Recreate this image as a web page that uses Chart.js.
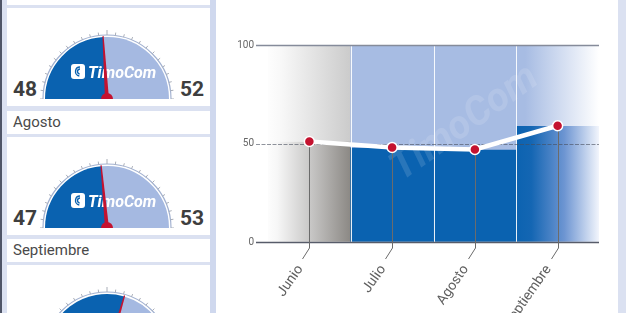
<!DOCTYPE html>
<html>
<head>
<meta charset="utf-8">
<script src="https://cdn.jsdelivr.net/npm/chart.js@4"></script>
<style>
  html, body { margin: 0; padding: 0; }
  body { width: 626px; height: 313px; overflow: hidden; position: relative; background: #dbe1f1; font-family: Roboto, "DejaVu Sans", sans-serif; }
  #edge { position: absolute; left: 0; top: 0; width: 2px; height: 313px; background: #4f5567; }
  #split { position: absolute; left: 210px; top: 0; width: 6px; height: 313px; background: #cfd8ee; }
  .box { position: absolute; left: 7px; width: 203px; background: #fff; }
  .title span { position: absolute; left: 6px; top: 4px; font-size: 15px; line-height: 15px; color: #4a4a4a; }
  .num { position: absolute; font-weight: 700; font-size: 21px; line-height: 21px; color: #3e3e3e; }
  .gauge { position: absolute; z-index: 2; }
  #panel { position: absolute; left: 216px; top: 0; width: 402px; height: 313px; background: #fff; }
</style>
</head>
<body>
<div id="edge"></div>
<div id="split"></div>
<div id="panel"><canvas id="trend" width="402" height="313"></canvas></div>

<script>
// ---------- data ----------
const months = ['Junio', 'Julio', 'Agosto', 'Septiembre'];
const values = [51, 48, 47, 59];
const yTicks = [0, 50, 100];

const gaugeMonths = ['Julio', 'Agosto', 'Septiembre'];
const gaugeLow = [48, 47, 59];
const gaugeHigh = [52, 53, 41];

// layout of the left cards (title box tops)
const cardTops = [-18, 111, 239];

const DARK = '#0a62b0';
const LIGHT = '#a7bce3';
const RED = '#c4122f';

// ---------- left column: gauges ----------
const gaugePlugin = {
  id: 'gaugeDeco',
  afterDatasetsDraw(chart) {
    const arc = chart.getDatasetMeta(0).data[0];
    const ctx = chart.ctx;
    const cx = arc.x, cy = arc.y, r = arc.outerRadius;
    ctx.save();
    // rim
    ctx.strokeStyle = '#a2b1d0';
    ctx.lineWidth = 1.2;
    ctx.beginPath();
    ctx.arc(cx, cy, r + 2, Math.PI, 2 * Math.PI);
    ctx.stroke();
    // tick marks
    ctx.strokeStyle = '#a9aeb8';
    ctx.lineWidth = 1;
    for (let k = 0; k <= 24; k++) {
      const t = Math.PI + k * Math.PI / 24;
      const len = k === 12 ? 5 : 3;
      ctx.beginPath();
      ctx.moveTo(cx + (r + 2) * Math.cos(t), cy + (r + 2) * Math.sin(t));
      ctx.lineTo(cx + (r + 2 + len) * Math.cos(t), cy + (r + 2 + len) * Math.sin(t));
      ctx.stroke();
    }
    // logo
    ctx.fillStyle = '#fff';
    ctx.beginPath();
    ctx.roundRect(cx - 36, cy - 35, 14, 15, 3);
    ctx.fill();
    ctx.strokeStyle = DARK;
    ctx.lineWidth = 1.4;
    for (const rr of [2.5, 4.5]) {
      ctx.beginPath();
      ctx.arc(cx - 27, cy - 27.5, rr, 0.55 * Math.PI, 1.5 * Math.PI);
      ctx.stroke();
    }
    ctx.fillStyle = '#fff';
    ctx.font = 'italic bold 16px Roboto';
    ctx.textBaseline = 'alphabetic';
    ctx.fillText('TimoCom', cx - 19, cy - 21);
    // needle
    const a = arc.endAngle;
    const tipR = r + 1;
    const nx = Math.cos(a), ny = Math.sin(a);
    const px = -ny, py = nx;
    ctx.fillStyle = RED;
    ctx.beginPath();
    ctx.moveTo(cx + px * 2, cy + py * 2);
    ctx.lineTo(cx + nx * tipR + px * 0.6, cy + ny * tipR + py * 0.6);
    ctx.lineTo(cx + nx * tipR - px * 0.6, cy + ny * tipR - py * 0.6);
    ctx.lineTo(cx - px * 2, cy - py * 2);
    ctx.closePath();
    ctx.fill();
    // hub
    ctx.beginPath();
    ctx.arc(cx, cy, 6, 0, 2 * Math.PI);
    ctx.fill();
    ctx.restore();
  }
};

gaugeMonths.forEach((m, i) => {
  const tTop = cardTops[i];
  const gTop = tTop + 26;
  const cy = gTop + 91;

  const title = document.createElement('div');
  title.className = 'box title';
  title.style.top = tTop + 'px';
  title.style.height = '23px';
  title.innerHTML = '<span>' + m + '</span>';
  document.body.appendChild(title);

  const box = document.createElement('div');
  box.className = 'box';
  box.style.top = gTop + 'px';
  box.style.height = '98px';
  document.body.appendChild(box);

  const lo = document.createElement('div');
  lo.className = 'num';
  lo.style.left = '13px';
  lo.style.top = (cy - 20) + 'px';
  lo.textContent = gaugeLow[i];
  document.body.appendChild(lo);

  const hi = document.createElement('div');
  hi.className = 'num';
  hi.style.left = '180px';
  hi.style.top = (cy - 20) + 'px';
  hi.textContent = gaugeHigh[i];
  document.body.appendChild(hi);

  const cv = document.createElement('canvas');
  cv.className = 'gauge';
  cv.width = 144;
  cv.height = 74;
  cv.style.left = '35px';
  cv.style.top = (cy - 74) + 'px';
  document.body.appendChild(cv);

  new Chart(cv, {
    type: 'doughnut',
    data: {
      labels: ['low', 'high'],
      datasets: [{
        data: [gaugeLow[i], gaugeHigh[i]],
        backgroundColor: [DARK, '#a5b9e1'],
        borderWidth: 0
      }]
    },
    options: {
      responsive: false,
      animation: false,
      events: [],
      rotation: -90,
      circumference: 180,
      cutout: 0,
      layout: { padding: { left: 10, right: 10, top: 12, bottom: 0 } },
      plugins: { legend: { display: false }, tooltip: { enabled: false } }
    },
    plugins: [gaugePlugin]
  });
});

// ---------- right: trend chart ----------
function columnEdges(chart, i) {
  const x = chart.scales.x;
  const w = x.getPixelForValue(1) - x.getPixelForValue(0);
  const c = x.getPixelForValue(i);
  return [c - w / 2, c + w / 2];
}

function columnFill(lower) {
  return (ctx) => {
    const chart = ctx.chart;
    const i = ctx.dataIndex;
    const base = lower ? DARK : LIGHT;
    if (!chart.chartArea || (i !== 0 && i !== months.length - 1)) return base;
    const [l, r] = columnEdges(chart, i);
    const g = chart.ctx.createLinearGradient(l - 4, 0, r, 0);
    if (i === 0) {
      if (lower) {
        g.addColorStop(0, '#ffffff');
        g.addColorStop(0.15, '#f7f7f7');
        g.addColorStop(0.55, '#c6c5c4');
        g.addColorStop(1, '#8b8884');
      } else {
        g.addColorStop(0, '#ffffff');
        g.addColorStop(0.2, '#f8f8f8');
        g.addColorStop(1, '#cbcbcb');
      }
    } else {
      if (lower) {
        g.addColorStop(0, DARK);
        g.addColorStop(0.22, '#1466b3');
        g.addColorStop(0.6, '#6d95d2');
        g.addColorStop(1, '#f2f5fc');
      } else {
        g.addColorStop(0, LIGHT);
        g.addColorStop(0.15, LIGHT);
        g.addColorStop(1, '#ffffff');
      }
    }
    return g;
  };
}

const decor = {
  id: 'decor',
  beforeDatasetDraw(chart, args) {
    if (args.index !== 2) return;
    const { ctx, chartArea: a, scales: { x, y } } = chart;
    ctx.save();

    // column separators
    ctx.strokeStyle = 'rgba(255,255,255,0.9)';
    ctx.lineWidth = 1;
    for (let i = 1; i < months.length; i++) {
      const sx = Math.round((x.getPixelForValue(i - 1) + x.getPixelForValue(i)) / 2) + 0.5;
      ctx.beginPath();
      ctx.moveTo(sx, a.top);
      ctx.lineTo(sx, a.bottom);
      ctx.stroke();
    }

    // faint watermark
    ctx.save();
    ctx.translate(255, 132);
    ctx.rotate(-0.62);
    ctx.fillStyle = 'rgba(255,255,255,0.13)';
    ctx.font = 'italic bold 40px Roboto';
    ctx.textAlign = 'center';
    ctx.fillText('TimoCom', 0, 0);
    ctx.restore();

    // horizontal grid lines
    yTicks.forEach((v) => {
      const py = Math.round(y.getPixelForValue(v)) + 0.5;
      ctx.beginPath();
      if (v === 50) {
        ctx.setLineDash([4, 1.5]);
        ctx.strokeStyle = 'rgba(70,76,92,0.6)';
        ctx.lineWidth = 1;
      } else {
        ctx.setLineDash([]);
        ctx.strokeStyle = v === 0 ? '#575c6a' : '#858b9a';
        ctx.lineWidth = 1.5;
      }
      ctx.moveTo(a.left - 12, py);
      ctx.lineTo(a.right, py);
      ctx.stroke();
    });
    ctx.setLineDash([]);

    // leader lines from points to labels
    ctx.strokeStyle = '#6b6b6b';
    ctx.lineWidth = 1;
    values.forEach((v, i) => {
      const px = Math.round(x.getPixelForValue(i)) + 0.5;
      const py = y.getPixelForValue(v);
      ctx.beginPath();
      ctx.moveTo(px, py);
      ctx.lineTo(px, a.bottom + 6);
      ctx.lineTo(px - 7, a.bottom + 17);
      ctx.stroke();
    });
    ctx.restore();
  }
};

new Chart(document.getElementById('trend'), {
  data: {
    labels: months,
    datasets: [
      {
        type: 'bar',
        data: values.map((v) => [0, v]),
        backgroundColor: columnFill(true),
        grouped: false,
        barPercentage: 1,
        categoryPercentage: 1,
        borderWidth: 0,
        order: 2
      },
      {
        type: 'bar',
        data: values.map((v) => [v, 100]),
        backgroundColor: columnFill(false),
        grouped: false,
        barPercentage: 1,
        categoryPercentage: 1,
        borderWidth: 0,
        order: 1
      },
      {
        type: 'line',
        data: values,
        borderColor: '#ffffff',
        borderWidth: 4.5,
        tension: 0,
        pointRadius: 5,
        pointBackgroundColor: RED,
        pointBorderColor: '#ffffff',
        pointBorderWidth: 1.5,
        order: 0
      }
    ]
  },
  options: {
    responsive: false,
    animation: false,
    events: [],
    layout: { padding: { top: 45, right: 19, left: 0, bottom: 0 } },
    plugins: { legend: { display: false }, tooltip: { enabled: false } },
    scales: {
      x: {
        offset: true,
        grid: { display: false },
        border: { display: false },
        ticks: {
          autoSkip: false,
          minRotation: 55,
          maxRotation: 55,
          padding: 12,
          labelOffset: -9,
          color: '#606060',
          font: { family: 'Roboto', size: 14 }
        },
        afterFit: (s) => { s.height = 71; }
      },
      y: {
        min: 0,
        max: 100,
        afterBuildTicks: (s) => { s.ticks = yTicks.map((v) => ({ value: v })); },
        grid: { display: true, drawOnChartArea: false, drawTicks: true, tickLength: 12, color: 'rgba(0,0,0,0)' },
        border: { display: false },
        ticks: { padding: 2, color: '#666666', font: { family: 'Roboto', size: 10 } },
        afterFit: (s) => { s.width = 52; }
      }
    }
  },
  plugins: [decor]
});
</script>
</body>
</html>
